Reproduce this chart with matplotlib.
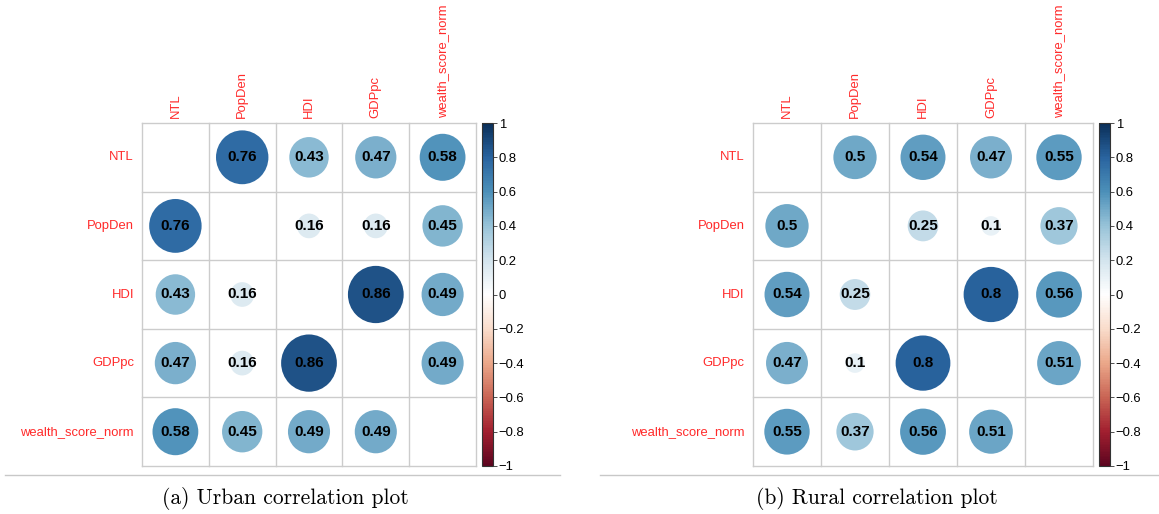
import numpy as np
import matplotlib
matplotlib.use("Agg")
import matplotlib.pyplot as plt
from matplotlib.colors import LinearSegmentedColormap, Normalize, to_rgb
from matplotlib.patches import Ellipse
from matplotlib.cm import ScalarMappable
from matplotlib.lines import Line2D

variables = ["NTL", "PopDen", "HDI", "GDPpc", "wealth_score_norm"]

# upper-triangle pairs in order (0,1),(0,2),(0,3),(0,4),(1,2),(1,3),(1,4),(2,3),(2,4),(3,4)
urban_pairs = [0.76, 0.43, 0.47, 0.58, 0.16, 0.16, 0.45, 0.86, 0.49, 0.49]
rural_pairs = [0.5, 0.54, 0.47, 0.55, 0.25, 0.1, 0.37, 0.8, 0.56, 0.51]

captions = ["(a) Urban correlation plot", "(b) Rural correlation plot"]
cbar_ticks = [1, 0.8, 0.6, 0.4, 0.2, 0, -0.2, -0.4, -0.6, -0.8, -1]

rdbu = ["#67001F", "#B2182B", "#D6604D", "#F4A582", "#FDDBC7", "#FFFFFF",
        "#D1E5F0", "#92C5DE", "#4393C3", "#2166AC", "#053061"]

def soften(c, amt=0.15):
    r, g, b = to_rgb(c)
    lum = 0.3 * r + 0.59 * g + 0.11 * b
    return (r + amt * (lum - r), g + amt * (lum - g), b + amt * (lum - b))

cmap = LinearSegmentedColormap.from_list("corrplot", [soften(c) for c in rdbu], N=200)
norm = Normalize(-1, 1)

def build_matrix(pairs):
    n = len(variables)
    m = np.full((n, n), np.nan)
    k = 0
    for i in range(n):
        for j in range(i + 1, n):
            m[i, j] = pairs[k]
            m[j, i] = pairs[k]
            k += 1
    return m

W, H = 1159, 514
fig = plt.figure(figsize=(W / 100, H / 100), dpi=100)

SANS = "Liberation Sans"
RED = "#FF2A2A"

def px_axes(x0, y0, x1, y1):
    return fig.add_axes([x0 / W, 1 - y1 / H, (x1 - x0) / W, (y1 - y0) / H])

panels = [
    dict(grid=(142, 123, 476, 466), cbar=(482, 123, 493, 466), line=(5, 560), cap_x=285),
    dict(grid=(753, 123, 1093, 466), cbar=(1099, 123, 1110, 466), line=(600, 1158), cap_x=877),
]

for p, pairs, cap in zip(panels, [urban_pairs, rural_pairs], captions):
    m = build_matrix(pairs)
    n = len(variables)
    ax = px_axes(*p["grid"])
    ax.set_xlim(0, n)
    ax.set_ylim(n, 0)
    ax.set_axis_off()
    for k in range(n + 1):
        ax.plot([k, k], [0, n], color="#CCCCCC", lw=1.0, zorder=1, clip_on=False)
        ax.plot([0, n], [k, k], color="#CCCCCC", lw=1.0, zorder=1, clip_on=False)
    for i in range(n):
        for j in range(n):
            v = m[i, j]
            if np.isnan(v):
                continue
            d = 0.9 * np.sqrt(abs(v))
            e = Ellipse((j + 0.5, i + 0.5), d, d, facecolor=cmap(norm(v)),
                        edgecolor="none", zorder=2)
            ax.add_patch(e)
            ax.text(j + 0.5, i + 0.5, f"{v:g}", ha="center", va="center",
                    fontsize=11, fontweight="bold", family=SANS, color="black", zorder=3)
    for k, name in enumerate(variables):
        ax.text(-0.12, k + 0.5, name, ha="right", va="center", fontsize=9.4,
                family=SANS, color=RED)
        ax.text(k + 0.5, -0.08, name, ha="center", va="bottom", rotation=90,
                fontsize=9.4, family=SANS, color=RED)
    # colorbar
    cax = px_axes(*p["cbar"])
    sm = ScalarMappable(norm=norm, cmap=cmap)
    cb = fig.colorbar(sm, cax=cax, orientation="vertical")
    cb.set_ticks(cbar_ticks)
    cb.set_ticklabels([f"{t:g}".replace("-", "\u2212") for t in cbar_ticks])
    cb.outline.set_linewidth(0.8)
    cb.outline.set_edgecolor("#333333")
    cax.tick_params(length=3, width=0.6, labelsize=9.4, pad=1, color="#333333")
    for lab in cax.get_yticklabels():
        lab.set_family(SANS)
    # separator line + caption
    x0, x1 = p["line"]
    fig.add_artist(Line2D([x0 / W, x1 / W], [1 - 474.5 / H, 1 - 474.5 / H],
                          color="#C8C8C8", lw=1.0))
    fig.text(p["cap_x"] / W, 1 - 498 / H, cap, ha="center", va="center",
             fontsize=15.5, family="cmr10")

fig.savefig("out.png", dpi=100)
